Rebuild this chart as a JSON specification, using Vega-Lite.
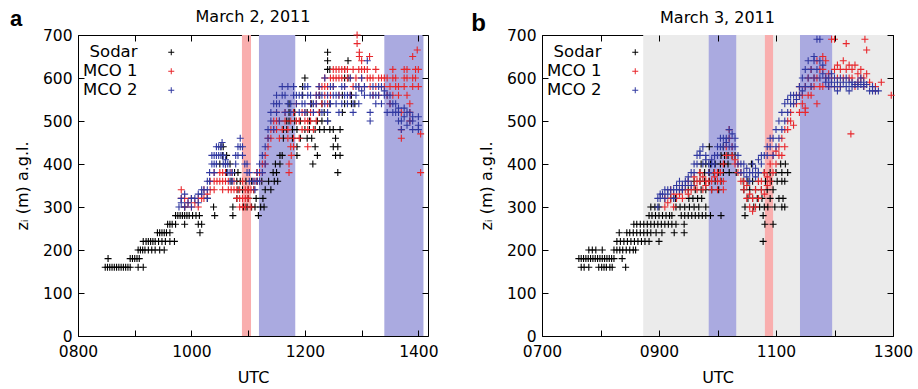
{
"$schema":"https://vega.github.io/schema/vega-lite/v6.json",
"background":"white",
"padding":{"left":9,"right":0,"top":7,"bottom":0},
"spacing":31,
"config":{"font":"DejaVu Sans","view":{"stroke":"#000","strokeWidth":1},
"axis":{"grid":false,"domain":false,"tickColor":"#000","tickWidth":1,"labelFlush":false,"minExtent":0,"labelFontSize":15.5,"labelColor":"#000","titleFontSize":16,"titleFontWeight":"normal","titleColor":"#000","labelFont":"DejaVu Sans","titleFont":"DejaVu Sans"},
"title":{"fontSize":16,"fontWeight":"normal","font":"DejaVu Sans","offset":0,"baseline":"alphabetic","color":"#000"}},
"datasets":{
"bandsA":[{"from":10.89,"to":11.05,"kind":"MCO 1"},{"from":11.19,"to":11.83,"kind":"MCO 2"},{"from":13.40,"to":14.09,"kind":"MCO 2"}],
"bandsB":[{"from":8.73,"to":13,"kind":"shade"},{"from":9.85,"to":10.32,"kind":"MCO 2"},{"from":10.81,"to":10.95,"kind":"MCO 1"},{"from":11.41,"to":11.96,"kind":"MCO 2"}],
"a":[
{"s":"Sodar","t":8.48,"z":160},{"s":"Sodar","t":8.52,"z":160},{"s":"Sodar","t":8.56,"z":160},{"s":"Sodar","t":8.60,"z":160},{"s":"Sodar","t":8.64,"z":160},{"s":"Sodar","t":8.68,"z":160},{"s":"Sodar","t":8.72,"z":160},{"s":"Sodar","t":8.76,"z":160},{"s":"Sodar","t":8.80,"z":160},{"s":"Sodar","t":8.84,"z":160},{"s":"Sodar","t":8.88,"z":160},{"s":"Sodar","t":8.92,"z":160},{"s":"Sodar","t":9.06,"z":160},{"s":"Sodar","t":9.15,"z":160},
{"s":"Sodar","t":8.53,"z":180},{"s":"Sodar","t":8.92,"z":180},{"s":"Sodar","t":8.96,"z":180},{"s":"Sodar","t":9.00,"z":180},{"s":"Sodar","t":9.04,"z":180},{"s":"Sodar","t":9.08,"z":180},
{"s":"Sodar","t":9.06,"z":200},{"s":"Sodar","t":9.10,"z":200},{"s":"Sodar","t":9.14,"z":200},{"s":"Sodar","t":9.18,"z":200},{"s":"Sodar","t":9.24,"z":200},{"s":"Sodar","t":9.30,"z":200},{"s":"Sodar","t":9.36,"z":200},{"s":"Sodar","t":9.44,"z":200},{"s":"Sodar","t":9.52,"z":200},
{"s":"Sodar","t":9.15,"z":220},{"s":"Sodar","t":9.20,"z":220},{"s":"Sodar","t":9.24,"z":220},{"s":"Sodar","t":9.28,"z":220},{"s":"Sodar","t":9.32,"z":220},{"s":"Sodar","t":9.36,"z":220},{"s":"Sodar","t":9.42,"z":220},{"s":"Sodar","t":9.48,"z":220},{"s":"Sodar","t":9.54,"z":220},{"s":"Sodar","t":9.62,"z":220},{"s":"Sodar","t":9.70,"z":220},
{"s":"Sodar","t":9.40,"z":240},{"s":"Sodar","t":9.44,"z":240},{"s":"Sodar","t":9.48,"z":240},{"s":"Sodar","t":9.52,"z":240},{"s":"Sodar","t":9.56,"z":240},{"s":"Sodar","t":9.62,"z":240},{"s":"Sodar","t":10.15,"z":240},
{"s":"Sodar","t":9.58,"z":260},{"s":"Sodar","t":9.62,"z":260},{"s":"Sodar","t":9.66,"z":260},{"s":"Sodar","t":9.72,"z":260},{"s":"Sodar","t":9.88,"z":260},{"s":"Sodar","t":10.12,"z":260},{"s":"Sodar","t":10.18,"z":260},
{"s":"Sodar","t":9.72,"z":280},{"s":"Sodar","t":9.76,"z":280},{"s":"Sodar","t":9.80,"z":280},{"s":"Sodar","t":9.84,"z":280},{"s":"Sodar","t":9.88,"z":280},{"s":"Sodar","t":9.92,"z":280},{"s":"Sodar","t":9.96,"z":280},{"s":"Sodar","t":10.02,"z":280},{"s":"Sodar","t":10.08,"z":280},{"s":"Sodar","t":10.14,"z":280},{"s":"Sodar","t":10.41,"z":280},{"s":"Sodar","t":10.73,"z":280},{"s":"Sodar","t":11.18,"z":280},
{"s":"Sodar","t":9.88,"z":300},{"s":"Sodar","t":10.39,"z":300},{"s":"Sodar","t":10.73,"z":300},{"s":"Sodar","t":10.92,"z":300},{"s":"Sodar","t":10.98,"z":300},{"s":"Sodar","t":11.06,"z":300},{"s":"Sodar","t":11.12,"z":300},{"s":"Sodar","t":11.22,"z":300},{"s":"Sodar","t":11.28,"z":300},
{"s":"Sodar","t":10.00,"z":320},{"s":"Sodar","t":10.28,"z":320},{"s":"Sodar","t":10.80,"z":320},{"s":"Sodar","t":11.00,"z":320},{"s":"Sodar","t":11.14,"z":320},{"s":"Sodar","t":11.26,"z":320},
{"s":"Sodar","t":10.82,"z":340},{"s":"Sodar","t":10.90,"z":340},{"s":"Sodar","t":11.00,"z":340},{"s":"Sodar","t":11.10,"z":340},{"s":"Sodar","t":11.30,"z":340},{"s":"Sodar","t":11.40,"z":340},
{"s":"Sodar","t":10.70,"z":360},{"s":"Sodar","t":10.80,"z":360},{"s":"Sodar","t":10.86,"z":360},{"s":"Sodar","t":10.96,"z":360},{"s":"Sodar","t":11.06,"z":360},{"s":"Sodar","t":11.16,"z":360},{"s":"Sodar","t":11.24,"z":360},{"s":"Sodar","t":11.36,"z":360},{"s":"Sodar","t":11.46,"z":360},{"s":"Sodar","t":11.52,"z":360},
{"s":"Sodar","t":10.62,"z":380},{"s":"Sodar","t":10.76,"z":380},{"s":"Sodar","t":10.82,"z":380},{"s":"Sodar","t":11.44,"z":380},{"s":"Sodar","t":11.50,"z":380},
{"s":"Sodar","t":10.50,"z":400},{"s":"Sodar","t":10.60,"z":400},{"s":"Sodar","t":10.68,"z":400},{"s":"Sodar","t":11.48,"z":400},{"s":"Sodar","t":11.56,"z":400},
{"s":"Sodar","t":10.55,"z":420},{"s":"Sodar","t":10.62,"z":420},{"s":"Sodar","t":11.56,"z":420},{"s":"Sodar","t":11.60,"z":420},
{"s":"Sodar","t":10.52,"z":440},{"s":"Sodar","t":10.56,"z":440},
{"s":"Sodar","t":11.62,"z":460},{"s":"Sodar","t":11.62,"z":480},{"s":"Sodar","t":11.68,"z":480},{"s":"Sodar","t":11.68,"z":500},{"s":"Sodar","t":11.72,"z":500},{"s":"Sodar","t":11.72,"z":520},{"s":"Sodar","t":11.72,"z":540},{"s":"Sodar","t":11.78,"z":460},{"s":"Sodar","t":11.78,"z":480},{"s":"Sodar","t":11.82,"z":500},{"s":"Sodar","t":11.82,"z":520},{"s":"Sodar","t":11.86,"z":420},{"s":"Sodar","t":11.86,"z":440},{"s":"Sodar","t":11.86,"z":480},{"s":"Sodar","t":11.92,"z":460},{"s":"Sodar","t":11.92,"z":500},{"s":"Sodar","t":11.96,"z":560},{"s":"Sodar","t":11.96,"z":580},{"s":"Sodar","t":12.00,"z":480},{"s":"Sodar","t":12.00,"z":600},{"s":"Sodar","t":12.04,"z":460},{"s":"Sodar","t":12.04,"z":520},{"s":"Sodar","t":12.08,"z":480},{"s":"Sodar","t":12.08,"z":500},{"s":"Sodar","t":12.12,"z":540},{"s":"Sodar","t":12.12,"z":460},{"s":"Sodar","t":12.14,"z":400},{"s":"Sodar","t":12.18,"z":440},{"s":"Sodar","t":12.18,"z":480},{"s":"Sodar","t":12.22,"z":420},{"s":"Sodar","t":12.22,"z":500},{"s":"Sodar","t":12.26,"z":480},{"s":"Sodar","t":12.26,"z":520},{"s":"Sodar","t":12.26,"z":560},{"s":"Sodar","t":12.30,"z":500},{"s":"Sodar","t":12.30,"z":540},{"s":"Sodar","t":12.34,"z":480},{"s":"Sodar","t":12.34,"z":520},{"s":"Sodar","t":12.40,"z":500},{"s":"Sodar","t":12.40,"z":620},{"s":"Sodar","t":12.40,"z":640},{"s":"Sodar","t":12.40,"z":660},{"s":"Sodar","t":12.44,"z":480},{"s":"Sodar","t":12.44,"z":540},{"s":"Sodar","t":12.44,"z":620},{"s":"Sodar","t":12.50,"z":440},{"s":"Sodar","t":12.50,"z":480},{"s":"Sodar","t":12.54,"z":420},{"s":"Sodar","t":12.54,"z":460},{"s":"Sodar","t":12.58,"z":380},{"s":"Sodar","t":12.58,"z":440},{"s":"Sodar","t":12.62,"z":420},{"s":"Sodar","t":12.62,"z":480},{"s":"Sodar","t":12.66,"z":520},{"s":"Sodar","t":12.66,"z":560},{"s":"Sodar","t":12.70,"z":540},{"s":"Sodar","t":12.70,"z":600},{"s":"Sodar","t":12.70,"z":620},{"s":"Sodar","t":12.76,"z":600},{"s":"Sodar","t":12.76,"z":640},{"s":"Sodar","t":12.82,"z":540},{"s":"Sodar","t":12.82,"z":560},{"s":"Sodar","t":12.88,"z":540},
{"s":"MCO 1","t":9.82,"z":320},{"s":"MCO 1","t":9.82,"z":340},{"s":"MCO 1","t":9.88,"z":300},{"s":"MCO 1","t":9.88,"z":320},{"s":"MCO 1","t":9.94,"z":310},{"s":"MCO 1","t":10.00,"z":300},{"s":"MCO 1","t":10.00,"z":320},{"s":"MCO 1","t":10.06,"z":310},{"s":"MCO 1","t":10.12,"z":300},{"s":"MCO 1","t":10.12,"z":320},{"s":"MCO 1","t":10.18,"z":320},{"s":"MCO 1","t":10.22,"z":320},{"s":"MCO 1","t":10.22,"z":340},{"s":"MCO 1","t":10.28,"z":330},{"s":"MCO 1","t":10.33,"z":340},{"s":"MCO 1","t":10.33,"z":360},{"s":"MCO 1","t":10.40,"z":340},{"s":"MCO 1","t":10.40,"z":360},{"s":"MCO 1","t":10.40,"z":380},{"s":"MCO 1","t":10.45,"z":360},{"s":"MCO 1","t":10.50,"z":360},{"s":"MCO 1","t":10.50,"z":380},{"s":"MCO 1","t":10.55,"z":340},{"s":"MCO 1","t":10.55,"z":360},{"s":"MCO 1","t":10.55,"z":380},{"s":"MCO 1","t":10.60,"z":360},{"s":"MCO 1","t":10.60,"z":380},{"s":"MCO 1","t":10.65,"z":340},{"s":"MCO 1","t":10.65,"z":360},{"s":"MCO 1","t":10.70,"z":340},{"s":"MCO 1","t":10.70,"z":380},{"s":"MCO 1","t":10.75,"z":340},{"s":"MCO 1","t":10.75,"z":360},{"s":"MCO 1","t":10.80,"z":320},{"s":"MCO 1","t":10.80,"z":340},{"s":"MCO 1","t":10.85,"z":300},{"s":"MCO 1","t":10.85,"z":320},{"s":"MCO 1","t":10.85,"z":340},{"s":"MCO 1","t":10.90,"z":300},{"s":"MCO 1","t":10.90,"z":320},{"s":"MCO 1","t":10.90,"z":360},{"s":"MCO 1","t":10.95,"z":300},{"s":"MCO 1","t":10.95,"z":320},{"s":"MCO 1","t":10.95,"z":340},{"s":"MCO 1","t":11.00,"z":320},{"s":"MCO 1","t":11.00,"z":340},{"s":"MCO 1","t":11.05,"z":300},{"s":"MCO 1","t":11.05,"z":340},{"s":"MCO 1","t":11.10,"z":340},{"s":"MCO 1","t":11.10,"z":360},{"s":"MCO 1","t":11.15,"z":360},{"s":"MCO 1","t":11.15,"z":380},{"s":"MCO 1","t":11.20,"z":360},{"s":"MCO 1","t":11.20,"z":380},{"s":"MCO 1","t":11.25,"z":380},{"s":"MCO 1","t":11.25,"z":400},{"s":"MCO 1","t":11.30,"z":400},{"s":"MCO 1","t":11.30,"z":420},{"s":"MCO 1","t":11.35,"z":440},{"s":"MCO 1","t":11.35,"z":460},{"s":"MCO 1","t":11.40,"z":460},{"s":"MCO 1","t":11.40,"z":480},{"s":"MCO 1","t":11.45,"z":480},{"s":"MCO 1","t":11.45,"z":500},{"s":"MCO 1","t":11.50,"z":480},{"s":"MCO 1","t":11.50,"z":500},{"s":"MCO 1","t":11.50,"z":520},{"s":"MCO 1","t":11.55,"z":460},{"s":"MCO 1","t":11.55,"z":500},{"s":"MCO 1","t":11.60,"z":480},{"s":"MCO 1","t":11.65,"z":500},{"s":"MCO 1","t":11.65,"z":520},{"s":"MCO 1","t":11.70,"z":460},{"s":"MCO 1","t":11.70,"z":480},{"s":"MCO 1","t":11.72,"z":380},{"s":"MCO 1","t":11.72,"z":400},{"s":"MCO 1","t":11.76,"z":420},{"s":"MCO 1","t":11.75,"z":440},{"s":"MCO 1","t":11.75,"z":500},{"s":"MCO 1","t":11.80,"z":440},{"s":"MCO 1","t":11.80,"z":460},{"s":"MCO 1","t":11.80,"z":520},{"s":"MCO 1","t":11.85,"z":500},{"s":"MCO 1","t":11.85,"z":540},{"s":"MCO 1","t":11.90,"z":460},{"s":"MCO 1","t":11.90,"z":500},{"s":"MCO 1","t":11.95,"z":480},{"s":"MCO 1","t":11.95,"z":520},{"s":"MCO 1","t":12.00,"z":500},{"s":"MCO 1","t":12.00,"z":520},{"s":"MCO 1","t":12.05,"z":440},{"s":"MCO 1","t":12.05,"z":480},{"s":"MCO 1","t":12.05,"z":500},{"s":"MCO 1","t":12.10,"z":500},{"s":"MCO 1","t":12.10,"z":520},{"s":"MCO 1","t":12.10,"z":540},{"s":"MCO 1","t":12.15,"z":480},{"s":"MCO 1","t":12.15,"z":520},{"s":"MCO 1","t":12.20,"z":500},{"s":"MCO 1","t":12.20,"z":540},{"s":"MCO 1","t":12.20,"z":560},{"s":"MCO 1","t":12.25,"z":520},{"s":"MCO 1","t":12.25,"z":560},{"s":"MCO 1","t":12.25,"z":580},{"s":"MCO 1","t":12.30,"z":540},{"s":"MCO 1","t":12.30,"z":580},{"s":"MCO 1","t":12.35,"z":560},{"s":"MCO 1","t":12.35,"z":580},{"s":"MCO 1","t":12.35,"z":600},{"s":"MCO 1","t":12.40,"z":540},{"s":"MCO 1","t":12.40,"z":580},{"s":"MCO 1","t":12.45,"z":560},{"s":"MCO 1","t":12.45,"z":600},{"s":"MCO 1","t":12.50,"z":580},{"s":"MCO 1","t":12.50,"z":600},{"s":"MCO 1","t":12.50,"z":620},{"s":"MCO 1","t":12.55,"z":600},{"s":"MCO 1","t":12.55,"z":620},{"s":"MCO 1","t":12.60,"z":560},{"s":"MCO 1","t":12.60,"z":600},{"s":"MCO 1","t":12.60,"z":620},{"s":"MCO 1","t":12.65,"z":600},{"s":"MCO 1","t":12.65,"z":620},{"s":"MCO 1","t":12.70,"z":580},{"s":"MCO 1","t":12.70,"z":620},{"s":"MCO 1","t":12.75,"z":600},{"s":"MCO 1","t":12.75,"z":620},{"s":"MCO 1","t":12.80,"z":560},{"s":"MCO 1","t":12.80,"z":600},{"s":"MCO 1","t":12.85,"z":620},{"s":"MCO 1","t":12.85,"z":580},{"s":"MCO 1","t":12.92,"z":680},{"s":"MCO 1","t":12.92,"z":700},{"s":"MCO 1","t":12.96,"z":650},{"s":"MCO 1","t":12.96,"z":660},{"s":"MCO 1","t":12.90,"z":600},{"s":"MCO 1","t":12.95,"z":580},{"s":"MCO 1","t":12.95,"z":620},{"s":"MCO 1","t":13.00,"z":600},{"s":"MCO 1","t":13.00,"z":620},{"s":"MCO 1","t":13.00,"z":640},{"s":"MCO 1","t":13.05,"z":580},{"s":"MCO 1","t":13.05,"z":620},{"s":"MCO 1","t":13.10,"z":600},{"s":"MCO 1","t":13.10,"z":620},{"s":"MCO 1","t":13.14,"z":650},{"s":"MCO 1","t":13.15,"z":580},{"s":"MCO 1","t":13.15,"z":600},{"s":"MCO 1","t":13.20,"z":560},{"s":"MCO 1","t":13.20,"z":600},{"s":"MCO 1","t":13.25,"z":580},{"s":"MCO 1","t":13.25,"z":620},{"s":"MCO 1","t":13.30,"z":560},{"s":"MCO 1","t":13.30,"z":600},{"s":"MCO 1","t":13.35,"z":580},{"s":"MCO 1","t":13.35,"z":600},{"s":"MCO 1","t":13.40,"z":580},{"s":"MCO 1","t":13.40,"z":600},{"s":"MCO 1","t":13.45,"z":560},{"s":"MCO 1","t":13.45,"z":600},{"s":"MCO 1","t":13.50,"z":540},{"s":"MCO 1","t":13.50,"z":580},{"s":"MCO 1","t":13.55,"z":560},{"s":"MCO 1","t":13.55,"z":600},{"s":"MCO 1","t":13.55,"z":620},{"s":"MCO 1","t":13.60,"z":580},{"s":"MCO 1","t":13.60,"z":600},{"s":"MCO 1","t":13.65,"z":560},{"s":"MCO 1","t":13.65,"z":580},{"s":"MCO 1","t":13.70,"z":460},{"s":"MCO 1","t":13.70,"z":480},{"s":"MCO 1","t":13.70,"z":520},{"s":"MCO 1","t":13.75,"z":580},{"s":"MCO 1","t":13.75,"z":600},{"s":"MCO 1","t":13.75,"z":620},{"s":"MCO 1","t":13.80,"z":560},{"s":"MCO 1","t":13.80,"z":600},{"s":"MCO 1","t":13.80,"z":620},{"s":"MCO 1","t":13.85,"z":500},{"s":"MCO 1","t":13.85,"z":520},{"s":"MCO 1","t":13.85,"z":540},{"s":"MCO 1","t":13.90,"z":580},{"s":"MCO 1","t":13.90,"z":600},{"s":"MCO 1","t":13.90,"z":650},{"s":"MCO 1","t":13.95,"z":600},{"s":"MCO 1","t":13.95,"z":620},{"s":"MCO 1","t":14.00,"z":580},{"s":"MCO 1","t":14.00,"z":620},{"s":"MCO 1","t":13.98,"z":665},{"s":"MCO 1","t":14.04,"z":380},{"s":"MCO 1","t":14.04,"z":470},
{"s":"MCO 2","t":9.78,"z":300},{"s":"MCO 2","t":9.82,"z":310},{"s":"MCO 2","t":9.82,"z":320},{"s":"MCO 2","t":9.88,"z":300},{"s":"MCO 2","t":9.88,"z":330},{"s":"MCO 2","t":9.94,"z":310},{"s":"MCO 2","t":10.00,"z":300},{"s":"MCO 2","t":10.00,"z":320},{"s":"MCO 2","t":10.06,"z":320},{"s":"MCO 2","t":10.12,"z":310},{"s":"MCO 2","t":10.12,"z":330},{"s":"MCO 2","t":10.18,"z":330},{"s":"MCO 2","t":10.18,"z":340},{"s":"MCO 2","t":10.22,"z":340},{"s":"MCO 2","t":10.28,"z":320},{"s":"MCO 2","t":10.28,"z":340},{"s":"MCO 2","t":10.28,"z":360},{"s":"MCO 2","t":10.32,"z":360},{"s":"MCO 2","t":10.32,"z":380},{"s":"MCO 2","t":10.36,"z":400},{"s":"MCO 2","t":10.36,"z":420},{"s":"MCO 2","t":10.40,"z":380},{"s":"MCO 2","t":10.40,"z":400},{"s":"MCO 2","t":10.40,"z":420},{"s":"MCO 2","t":10.44,"z":400},{"s":"MCO 2","t":10.44,"z":420},{"s":"MCO 2","t":10.44,"z":440},{"s":"MCO 2","t":10.48,"z":420},{"s":"MCO 2","t":10.48,"z":440},{"s":"MCO 2","t":10.52,"z":420},{"s":"MCO 2","t":10.52,"z":440},{"s":"MCO 2","t":10.54,"z":450},{"s":"MCO 2","t":10.56,"z":400},{"s":"MCO 2","t":10.56,"z":420},{"s":"MCO 2","t":10.60,"z":400},{"s":"MCO 2","t":10.60,"z":410},{"s":"MCO 2","t":10.64,"z":380},{"s":"MCO 2","t":10.64,"z":400},{"s":"MCO 2","t":10.68,"z":360},{"s":"MCO 2","t":10.68,"z":380},{"s":"MCO 2","t":10.72,"z":360},{"s":"MCO 2","t":10.72,"z":380},{"s":"MCO 2","t":10.78,"z":400},{"s":"MCO 2","t":10.78,"z":420},{"s":"MCO 2","t":10.82,"z":420},{"s":"MCO 2","t":10.82,"z":440},{"s":"MCO 2","t":10.86,"z":440},{"s":"MCO 2","t":10.86,"z":460},{"s":"MCO 2","t":10.90,"z":420},{"s":"MCO 2","t":10.90,"z":440},{"s":"MCO 2","t":10.94,"z":400},{"s":"MCO 2","t":10.98,"z":380},{"s":"MCO 2","t":10.98,"z":400},{"s":"MCO 2","t":11.02,"z":360},{"s":"MCO 2","t":11.02,"z":380},{"s":"MCO 2","t":11.08,"z":360},{"s":"MCO 2","t":11.12,"z":340},{"s":"MCO 2","t":11.12,"z":360},{"s":"MCO 2","t":11.16,"z":360},{"s":"MCO 2","t":11.16,"z":380},{"s":"MCO 2","t":11.20,"z":360},{"s":"MCO 2","t":11.20,"z":400},{"s":"MCO 2","t":11.25,"z":380},{"s":"MCO 2","t":11.25,"z":420},{"s":"MCO 2","t":11.30,"z":400},{"s":"MCO 2","t":11.30,"z":440},{"s":"MCO 2","t":11.35,"z":460},{"s":"MCO 2","t":11.35,"z":480},{"s":"MCO 2","t":11.40,"z":500},{"s":"MCO 2","t":11.40,"z":520},{"s":"MCO 2","t":11.45,"z":480},{"s":"MCO 2","t":11.45,"z":540},{"s":"MCO 2","t":11.50,"z":520},{"s":"MCO 2","t":11.50,"z":540},{"s":"MCO 2","t":11.50,"z":560},{"s":"MCO 2","t":11.55,"z":500},{"s":"MCO 2","t":11.55,"z":540},{"s":"MCO 2","t":11.60,"z":560},{"s":"MCO 2","t":11.60,"z":580},{"s":"MCO 2","t":11.65,"z":520},{"s":"MCO 2","t":11.65,"z":560},{"s":"MCO 2","t":11.70,"z":540},{"s":"MCO 2","t":11.70,"z":580},{"s":"MCO 2","t":11.75,"z":520},{"s":"MCO 2","t":11.75,"z":540},{"s":"MCO 2","t":11.80,"z":560},{"s":"MCO 2","t":11.80,"z":580},{"s":"MCO 2","t":11.85,"z":540},{"s":"MCO 2","t":11.85,"z":560},{"s":"MCO 2","t":11.90,"z":520},{"s":"MCO 2","t":11.90,"z":560},{"s":"MCO 2","t":11.95,"z":540},{"s":"MCO 2","t":11.95,"z":560},{"s":"MCO 2","t":12.00,"z":520},{"s":"MCO 2","t":12.00,"z":540},{"s":"MCO 2","t":12.00,"z":580},{"s":"MCO 2","t":12.05,"z":560},{"s":"MCO 2","t":12.05,"z":580},{"s":"MCO 2","t":12.10,"z":540},{"s":"MCO 2","t":12.10,"z":560},{"s":"MCO 2","t":12.15,"z":520},{"s":"MCO 2","t":12.15,"z":540},{"s":"MCO 2","t":12.20,"z":540},{"s":"MCO 2","t":12.20,"z":560},{"s":"MCO 2","t":12.25,"z":560},{"s":"MCO 2","t":12.25,"z":580},{"s":"MCO 2","t":12.30,"z":520},{"s":"MCO 2","t":12.30,"z":560},{"s":"MCO 2","t":12.35,"z":540},{"s":"MCO 2","t":12.35,"z":600},{"s":"MCO 2","t":12.40,"z":500},{"s":"MCO 2","t":12.40,"z":520},{"s":"MCO 2","t":12.40,"z":560},{"s":"MCO 2","t":12.45,"z":540},{"s":"MCO 2","t":12.45,"z":580},{"s":"MCO 2","t":12.50,"z":560},{"s":"MCO 2","t":12.50,"z":580},{"s":"MCO 2","t":12.55,"z":540},{"s":"MCO 2","t":12.55,"z":560},{"s":"MCO 2","t":12.60,"z":520},{"s":"MCO 2","t":12.60,"z":560},{"s":"MCO 2","t":12.65,"z":540},{"s":"MCO 2","t":12.65,"z":580},{"s":"MCO 2","t":12.70,"z":560},{"s":"MCO 2","t":12.70,"z":580},{"s":"MCO 2","t":12.75,"z":540},{"s":"MCO 2","t":12.75,"z":560},{"s":"MCO 2","t":12.80,"z":560},{"s":"MCO 2","t":12.80,"z":600},{"s":"MCO 2","t":12.85,"z":520},{"s":"MCO 2","t":12.85,"z":540},{"s":"MCO 2","t":12.90,"z":560},{"s":"MCO 2","t":12.90,"z":580},{"s":"MCO 2","t":12.95,"z":540},{"s":"MCO 2","t":12.95,"z":580},{"s":"MCO 2","t":13.00,"z":570},{"s":"MCO 2","t":13.00,"z":600},{"s":"MCO 2","t":13.05,"z":560},{"s":"MCO 2","t":13.05,"z":580},{"s":"MCO 2","t":13.10,"z":640},{"s":"MCO 2","t":13.15,"z":500},{"s":"MCO 2","t":13.15,"z":520},{"s":"MCO 2","t":13.15,"z":560},{"s":"MCO 2","t":13.20,"z":560},{"s":"MCO 2","t":13.20,"z":580},{"s":"MCO 2","t":13.25,"z":540},{"s":"MCO 2","t":13.25,"z":560},{"s":"MCO 2","t":13.30,"z":560},{"s":"MCO 2","t":13.30,"z":580},{"s":"MCO 2","t":13.35,"z":540},{"s":"MCO 2","t":13.35,"z":580},{"s":"MCO 2","t":13.40,"z":560},{"s":"MCO 2","t":13.40,"z":570},{"s":"MCO 2","t":13.45,"z":520},{"s":"MCO 2","t":13.45,"z":560},{"s":"MCO 2","t":13.50,"z":540},{"s":"MCO 2","t":13.50,"z":560},{"s":"MCO 2","t":13.55,"z":520},{"s":"MCO 2","t":13.55,"z":540},{"s":"MCO 2","t":13.60,"z":520},{"s":"MCO 2","t":13.60,"z":540},{"s":"MCO 2","t":13.65,"z":500},{"s":"MCO 2","t":13.65,"z":520},{"s":"MCO 2","t":13.65,"z":530},{"s":"MCO 2","t":13.70,"z":480},{"s":"MCO 2","t":13.70,"z":500},{"s":"MCO 2","t":13.75,"z":510},{"s":"MCO 2","t":13.75,"z":530},{"s":"MCO 2","t":13.80,"z":490},{"s":"MCO 2","t":13.80,"z":520},{"s":"MCO 2","t":13.85,"z":500},{"s":"MCO 2","t":13.85,"z":520},{"s":"MCO 2","t":13.90,"z":480},{"s":"MCO 2","t":13.90,"z":500},{"s":"MCO 2","t":13.90,"z":510},{"s":"MCO 2","t":14.00,"z":480},{"s":"MCO 2","t":14.00,"z":490},{"s":"MCO 2","t":14.00,"z":510}
],
"b":[
{"s":"Sodar","t":7.67,"z":160},{"s":"Sodar","t":7.72,"z":160},{"s":"Sodar","t":7.80,"z":160},{"s":"Sodar","t":7.97,"z":160},{"s":"Sodar","t":8.02,"z":160},{"s":"Sodar","t":8.06,"z":160},{"s":"Sodar","t":8.10,"z":160},{"s":"Sodar","t":8.16,"z":160},{"s":"Sodar","t":8.20,"z":160},{"s":"Sodar","t":8.43,"z":160},
{"s":"Sodar","t":7.63,"z":180},{"s":"Sodar","t":7.67,"z":180},{"s":"Sodar","t":7.71,"z":180},{"s":"Sodar","t":7.75,"z":180},{"s":"Sodar","t":7.79,"z":180},{"s":"Sodar","t":7.83,"z":180},{"s":"Sodar","t":7.87,"z":180},{"s":"Sodar","t":7.91,"z":180},{"s":"Sodar","t":7.95,"z":180},{"s":"Sodar","t":7.99,"z":180},{"s":"Sodar","t":8.03,"z":180},{"s":"Sodar","t":8.07,"z":180},{"s":"Sodar","t":8.11,"z":180},{"s":"Sodar","t":8.15,"z":180},{"s":"Sodar","t":8.19,"z":180},{"s":"Sodar","t":8.23,"z":180},{"s":"Sodar","t":8.37,"z":180},
{"s":"Sodar","t":7.80,"z":200},{"s":"Sodar","t":7.86,"z":200},{"s":"Sodar","t":7.92,"z":200},{"s":"Sodar","t":8.03,"z":200},{"s":"Sodar","t":8.23,"z":200},{"s":"Sodar","t":8.28,"z":200},{"s":"Sodar","t":8.33,"z":200},{"s":"Sodar","t":8.38,"z":200},{"s":"Sodar","t":8.44,"z":200},{"s":"Sodar","t":8.50,"z":200},{"s":"Sodar","t":8.56,"z":200},{"s":"Sodar","t":8.60,"z":200},
{"s":"Sodar","t":8.28,"z":220},{"s":"Sodar","t":8.34,"z":220},{"s":"Sodar","t":8.40,"z":220},{"s":"Sodar","t":8.46,"z":220},{"s":"Sodar","t":8.52,"z":220},{"s":"Sodar","t":8.58,"z":220},{"s":"Sodar","t":8.64,"z":220},{"s":"Sodar","t":8.70,"z":220},{"s":"Sodar","t":8.76,"z":220},{"s":"Sodar","t":8.83,"z":220},{"s":"Sodar","t":9.00,"z":220},{"s":"Sodar","t":10.78,"z":220},
{"s":"Sodar","t":8.32,"z":240},{"s":"Sodar","t":8.45,"z":240},{"s":"Sodar","t":8.50,"z":240},{"s":"Sodar","t":8.56,"z":240},{"s":"Sodar","t":8.62,"z":240},{"s":"Sodar","t":8.68,"z":240},{"s":"Sodar","t":8.74,"z":240},{"s":"Sodar","t":8.80,"z":240},{"s":"Sodar","t":8.86,"z":240},{"s":"Sodar","t":8.95,"z":240},{"s":"Sodar","t":9.05,"z":240},{"s":"Sodar","t":9.26,"z":240},{"s":"Sodar","t":9.43,"z":240},
{"s":"Sodar","t":8.57,"z":260},{"s":"Sodar","t":8.62,"z":260},{"s":"Sodar","t":8.68,"z":260},{"s":"Sodar","t":8.74,"z":260},{"s":"Sodar","t":8.80,"z":260},{"s":"Sodar","t":8.86,"z":260},{"s":"Sodar","t":8.92,"z":260},{"s":"Sodar","t":8.98,"z":260},{"s":"Sodar","t":9.04,"z":260},{"s":"Sodar","t":9.10,"z":260},{"s":"Sodar","t":9.16,"z":260},{"s":"Sodar","t":9.22,"z":260},{"s":"Sodar","t":9.29,"z":260},{"s":"Sodar","t":9.43,"z":260},{"s":"Sodar","t":10.81,"z":260},{"s":"Sodar","t":10.95,"z":260},
{"s":"Sodar","t":8.83,"z":280},{"s":"Sodar","t":8.88,"z":280},{"s":"Sodar","t":8.94,"z":280},{"s":"Sodar","t":9.00,"z":280},{"s":"Sodar","t":9.06,"z":280},{"s":"Sodar","t":9.12,"z":280},{"s":"Sodar","t":9.18,"z":280},{"s":"Sodar","t":9.22,"z":280},{"s":"Sodar","t":9.38,"z":280},{"s":"Sodar","t":9.44,"z":280},{"s":"Sodar","t":9.50,"z":280},{"s":"Sodar","t":9.56,"z":280},{"s":"Sodar","t":9.62,"z":280},{"s":"Sodar","t":9.68,"z":280},{"s":"Sodar","t":9.74,"z":280},{"s":"Sodar","t":9.80,"z":280},{"s":"Sodar","t":9.88,"z":280},{"s":"Sodar","t":10.06,"z":280},{"s":"Sodar","t":10.47,"z":280},{"s":"Sodar","t":10.78,"z":280},
{"s":"Sodar","t":8.86,"z":300},{"s":"Sodar","t":8.93,"z":300},{"s":"Sodar","t":9.00,"z":300},{"s":"Sodar","t":9.29,"z":300},{"s":"Sodar","t":9.36,"z":300},{"s":"Sodar","t":9.44,"z":300},{"s":"Sodar","t":9.52,"z":300},{"s":"Sodar","t":9.60,"z":300},{"s":"Sodar","t":9.68,"z":300},{"s":"Sodar","t":9.80,"z":300},{"s":"Sodar","t":10.47,"z":300},{"s":"Sodar","t":10.62,"z":300},{"s":"Sodar","t":10.72,"z":300},{"s":"Sodar","t":10.80,"z":300},{"s":"Sodar","t":10.86,"z":300},{"s":"Sodar","t":10.98,"z":300},{"s":"Sodar","t":11.10,"z":300},{"s":"Sodar","t":11.15,"z":300},
{"s":"Sodar","t":9.20,"z":320},{"s":"Sodar","t":9.28,"z":320},{"s":"Sodar","t":9.51,"z":320},{"s":"Sodar","t":9.58,"z":320},{"s":"Sodar","t":9.66,"z":320},{"s":"Sodar","t":9.73,"z":320},{"s":"Sodar","t":10.52,"z":320},{"s":"Sodar","t":10.60,"z":320},{"s":"Sodar","t":10.68,"z":320},{"s":"Sodar","t":10.76,"z":320},{"s":"Sodar","t":10.90,"z":320},{"s":"Sodar","t":11.05,"z":320},{"s":"Sodar","t":11.12,"z":320},
{"s":"Sodar","t":9.40,"z":340},{"s":"Sodar","t":9.50,"z":340},{"s":"Sodar","t":9.62,"z":340},{"s":"Sodar","t":9.72,"z":340},{"s":"Sodar","t":9.80,"z":340},{"s":"Sodar","t":9.90,"z":340},{"s":"Sodar","t":10.02,"z":340},{"s":"Sodar","t":10.45,"z":340},{"s":"Sodar","t":10.55,"z":340},{"s":"Sodar","t":10.65,"z":340},{"s":"Sodar","t":10.75,"z":340},{"s":"Sodar","t":10.85,"z":340},{"s":"Sodar","t":10.95,"z":340},
{"s":"Sodar","t":9.60,"z":360},{"s":"Sodar","t":9.70,"z":360},{"s":"Sodar","t":9.78,"z":360},{"s":"Sodar","t":9.86,"z":360},{"s":"Sodar","t":9.96,"z":360},{"s":"Sodar","t":10.06,"z":360},{"s":"Sodar","t":10.44,"z":360},{"s":"Sodar","t":10.52,"z":360},{"s":"Sodar","t":10.60,"z":360},{"s":"Sodar","t":10.70,"z":360},{"s":"Sodar","t":10.82,"z":360},{"s":"Sodar","t":10.92,"z":360},{"s":"Sodar","t":11.02,"z":360},{"s":"Sodar","t":11.10,"z":360},{"s":"Sodar","t":11.15,"z":360},
{"s":"Sodar","t":9.70,"z":380},{"s":"Sodar","t":9.78,"z":380},{"s":"Sodar","t":9.86,"z":380},{"s":"Sodar","t":9.94,"z":380},{"s":"Sodar","t":10.02,"z":380},{"s":"Sodar","t":10.10,"z":380},{"s":"Sodar","t":10.20,"z":380},{"s":"Sodar","t":10.32,"z":380},{"s":"Sodar","t":10.70,"z":380},{"s":"Sodar","t":10.80,"z":380},{"s":"Sodar","t":10.90,"z":380},{"s":"Sodar","t":11.00,"z":380},{"s":"Sodar","t":11.10,"z":380},{"s":"Sodar","t":11.20,"z":380},
{"s":"Sodar","t":9.72,"z":400},{"s":"Sodar","t":9.80,"z":400},{"s":"Sodar","t":9.88,"z":400},{"s":"Sodar","t":9.96,"z":400},{"s":"Sodar","t":10.05,"z":400},{"s":"Sodar","t":10.12,"z":400},{"s":"Sodar","t":10.18,"z":400},{"s":"Sodar","t":10.58,"z":400},{"s":"Sodar","t":11.08,"z":400},{"s":"Sodar","t":11.16,"z":400},
{"s":"Sodar","t":10.06,"z":420},{"s":"Sodar","t":10.12,"z":420},{"s":"Sodar","t":10.18,"z":420},{"s":"Sodar","t":10.25,"z":420},{"s":"Sodar","t":10.30,"z":420},{"s":"Sodar","t":10.10,"z":440},{"s":"Sodar","t":9.86,"z":440},
{"s":"MCO 1","t":9.10,"z":300},{"s":"MCO 1","t":9.10,"z":320},{"s":"MCO 1","t":9.15,"z":310},{"s":"MCO 1","t":9.20,"z":320},{"s":"MCO 1","t":9.20,"z":340},{"s":"MCO 1","t":9.25,"z":300},{"s":"MCO 1","t":9.25,"z":330},{"s":"MCO 1","t":9.30,"z":320},{"s":"MCO 1","t":9.35,"z":330},{"s":"MCO 1","t":9.35,"z":340},{"s":"MCO 1","t":9.40,"z":320},{"s":"MCO 1","t":9.40,"z":350},{"s":"MCO 1","t":9.45,"z":340},{"s":"MCO 1","t":9.50,"z":330},{"s":"MCO 1","t":9.50,"z":360},{"s":"MCO 1","t":9.55,"z":340},{"s":"MCO 1","t":9.60,"z":350},{"s":"MCO 1","t":9.60,"z":370},{"s":"MCO 1","t":9.65,"z":340},{"s":"MCO 1","t":9.65,"z":360},{"s":"MCO 1","t":9.70,"z":360},{"s":"MCO 1","t":9.70,"z":380},{"s":"MCO 1","t":9.75,"z":340},{"s":"MCO 1","t":9.75,"z":370},{"s":"MCO 1","t":9.80,"z":350},{"s":"MCO 1","t":9.80,"z":360},{"s":"MCO 1","t":9.85,"z":360},{"s":"MCO 1","t":9.85,"z":380},{"s":"MCO 1","t":9.90,"z":340},{"s":"MCO 1","t":9.90,"z":360},{"s":"MCO 1","t":9.95,"z":370},{"s":"MCO 1","t":9.95,"z":380},{"s":"MCO 1","t":10.00,"z":340},{"s":"MCO 1","t":10.00,"z":360},{"s":"MCO 1","t":10.00,"z":380},{"s":"MCO 1","t":10.05,"z":360},{"s":"MCO 1","t":10.05,"z":380},{"s":"MCO 1","t":10.10,"z":340},{"s":"MCO 1","t":10.10,"z":360},{"s":"MCO 1","t":10.10,"z":400},{"s":"MCO 1","t":10.15,"z":420},{"s":"MCO 1","t":10.15,"z":440},{"s":"MCO 1","t":10.20,"z":460},{"s":"MCO 1","t":10.20,"z":480},{"s":"MCO 1","t":10.25,"z":440},{"s":"MCO 1","t":10.25,"z":420},{"s":"MCO 1","t":10.30,"z":400},{"s":"MCO 1","t":10.30,"z":410},{"s":"MCO 1","t":10.35,"z":380},{"s":"MCO 1","t":10.35,"z":400},{"s":"MCO 1","t":10.40,"z":360},{"s":"MCO 1","t":10.40,"z":380},{"s":"MCO 1","t":10.45,"z":340},{"s":"MCO 1","t":10.45,"z":360},{"s":"MCO 1","t":10.50,"z":320},{"s":"MCO 1","t":10.50,"z":350},{"s":"MCO 1","t":10.55,"z":300},{"s":"MCO 1","t":10.55,"z":330},{"s":"MCO 1","t":10.60,"z":290},{"s":"MCO 1","t":10.60,"z":320},{"s":"MCO 1","t":10.65,"z":300},{"s":"MCO 1","t":10.65,"z":340},{"s":"MCO 1","t":10.70,"z":320},{"s":"MCO 1","t":10.70,"z":360},{"s":"MCO 1","t":10.75,"z":340},{"s":"MCO 1","t":10.75,"z":360},{"s":"MCO 1","t":10.80,"z":330},{"s":"MCO 1","t":10.80,"z":380},{"s":"MCO 1","t":10.85,"z":350},{"s":"MCO 1","t":10.85,"z":370},{"s":"MCO 1","t":10.90,"z":360},{"s":"MCO 1","t":10.90,"z":400},{"s":"MCO 1","t":10.95,"z":380},{"s":"MCO 1","t":10.95,"z":420},{"s":"MCO 1","t":11.00,"z":400},{"s":"MCO 1","t":11.00,"z":430},{"s":"MCO 1","t":11.05,"z":420},{"s":"MCO 1","t":11.05,"z":440},{"s":"MCO 1","t":11.10,"z":420},{"s":"MCO 1","t":11.10,"z":460},{"s":"MCO 1","t":11.15,"z":440},{"s":"MCO 1","t":11.15,"z":480},{"s":"MCO 1","t":11.20,"z":480},{"s":"MCO 1","t":11.20,"z":500},{"s":"MCO 1","t":11.25,"z":500},{"s":"MCO 1","t":11.25,"z":520},{"s":"MCO 1","t":11.30,"z":490},{"s":"MCO 1","t":11.30,"z":540},{"s":"MCO 1","t":11.35,"z":540},{"s":"MCO 1","t":11.35,"z":560},{"s":"MCO 1","t":11.40,"z":520},{"s":"MCO 1","t":11.40,"z":560},{"s":"MCO 1","t":11.40,"z":580},{"s":"MCO 1","t":11.45,"z":540},{"s":"MCO 1","t":11.45,"z":560},{"s":"MCO 1","t":11.50,"z":520},{"s":"MCO 1","t":11.50,"z":530},{"s":"MCO 1","t":11.50,"z":580},{"s":"MCO 1","t":11.55,"z":560},{"s":"MCO 1","t":11.55,"z":600},{"s":"MCO 1","t":11.60,"z":560},{"s":"MCO 1","t":11.60,"z":580},{"s":"MCO 1","t":11.60,"z":620},{"s":"MCO 1","t":11.65,"z":580},{"s":"MCO 1","t":11.65,"z":600},{"s":"MCO 1","t":11.70,"z":540},{"s":"MCO 1","t":11.70,"z":600},{"s":"MCO 1","t":11.70,"z":640},{"s":"MCO 1","t":11.75,"z":580},{"s":"MCO 1","t":11.75,"z":620},{"s":"MCO 1","t":11.80,"z":580},{"s":"MCO 1","t":11.80,"z":620},{"s":"MCO 1","t":11.80,"z":650},{"s":"MCO 1","t":11.85,"z":600},{"s":"MCO 1","t":11.85,"z":640},{"s":"MCO 1","t":11.90,"z":580},{"s":"MCO 1","t":11.90,"z":610},{"s":"MCO 1","t":11.95,"z":600},{"s":"MCO 1","t":11.95,"z":690},{"s":"MCO 1","t":12.00,"z":580},{"s":"MCO 1","t":12.00,"z":620},{"s":"MCO 1","t":12.00,"z":690},{"s":"MCO 1","t":12.05,"z":600},{"s":"MCO 1","t":12.05,"z":630},{"s":"MCO 1","t":12.10,"z":580},{"s":"MCO 1","t":12.10,"z":620},{"s":"MCO 1","t":12.15,"z":600},{"s":"MCO 1","t":12.15,"z":640},{"s":"MCO 1","t":12.20,"z":620},{"s":"MCO 1","t":12.20,"z":680},{"s":"MCO 1","t":12.25,"z":600},{"s":"MCO 1","t":12.25,"z":630},{"s":"MCO 1","t":12.28,"z":470},{"s":"MCO 1","t":12.30,"z":600},{"s":"MCO 1","t":12.30,"z":620},{"s":"MCO 1","t":12.35,"z":580},{"s":"MCO 1","t":12.35,"z":630},{"s":"MCO 1","t":12.40,"z":590},{"s":"MCO 1","t":12.40,"z":610},{"s":"MCO 1","t":12.45,"z":600},{"s":"MCO 1","t":12.45,"z":620},{"s":"MCO 1","t":12.50,"z":580},{"s":"MCO 1","t":12.50,"z":600},{"s":"MCO 1","t":12.52,"z":690},{"s":"MCO 1","t":12.55,"z":610},{"s":"MCO 1","t":12.55,"z":665},{"s":"MCO 1","t":12.60,"z":590},{"s":"MCO 1","t":12.70,"z":580},{"s":"MCO 1","t":12.70,"z":570},{"s":"MCO 1","t":12.80,"z":590},{"s":"MCO 1","t":12.97,"z":560},
{"s":"MCO 2","t":8.98,"z":300},{"s":"MCO 2","t":8.98,"z":320},{"s":"MCO 2","t":9.02,"z":320},{"s":"MCO 2","t":9.02,"z":330},{"s":"MCO 2","t":9.06,"z":330},{"s":"MCO 2","t":9.10,"z":320},{"s":"MCO 2","t":9.10,"z":340},{"s":"MCO 2","t":9.15,"z":330},{"s":"MCO 2","t":9.15,"z":340},{"s":"MCO 2","t":9.20,"z":340},{"s":"MCO 2","t":9.25,"z":320},{"s":"MCO 2","t":9.25,"z":340},{"s":"MCO 2","t":9.30,"z":340},{"s":"MCO 2","t":9.30,"z":350},{"s":"MCO 2","t":9.35,"z":340},{"s":"MCO 2","t":9.35,"z":360},{"s":"MCO 2","t":9.40,"z":340},{"s":"MCO 2","t":9.40,"z":350},{"s":"MCO 2","t":9.45,"z":350},{"s":"MCO 2","t":9.45,"z":360},{"s":"MCO 2","t":9.50,"z":360},{"s":"MCO 2","t":9.50,"z":370},{"s":"MCO 2","t":9.55,"z":350},{"s":"MCO 2","t":9.55,"z":380},{"s":"MCO 2","t":9.60,"z":380},{"s":"MCO 2","t":9.60,"z":400},{"s":"MCO 2","t":9.65,"z":400},{"s":"MCO 2","t":9.65,"z":420},{"s":"MCO 2","t":9.70,"z":420},{"s":"MCO 2","t":9.70,"z":430},{"s":"MCO 2","t":9.75,"z":400},{"s":"MCO 2","t":9.75,"z":440},{"s":"MCO 2","t":9.80,"z":410},{"s":"MCO 2","t":9.80,"z":420},{"s":"MCO 2","t":9.85,"z":380},{"s":"MCO 2","t":9.85,"z":400},{"s":"MCO 2","t":9.90,"z":400},{"s":"MCO 2","t":9.90,"z":410},{"s":"MCO 2","t":9.95,"z":400},{"s":"MCO 2","t":9.95,"z":420},{"s":"MCO 2","t":10.00,"z":420},{"s":"MCO 2","t":10.00,"z":440},{"s":"MCO 2","t":10.05,"z":440},{"s":"MCO 2","t":10.05,"z":460},{"s":"MCO 2","t":10.10,"z":440},{"s":"MCO 2","t":10.10,"z":460},{"s":"MCO 2","t":10.15,"z":450},{"s":"MCO 2","t":10.15,"z":460},{"s":"MCO 2","t":10.20,"z":440},{"s":"MCO 2","t":10.20,"z":460},{"s":"MCO 2","t":10.20,"z":480},{"s":"MCO 2","t":10.25,"z":440},{"s":"MCO 2","t":10.25,"z":470},{"s":"MCO 2","t":10.30,"z":440},{"s":"MCO 2","t":10.30,"z":460},{"s":"MCO 2","t":10.35,"z":420},{"s":"MCO 2","t":10.35,"z":400},{"s":"MCO 2","t":10.40,"z":400},{"s":"MCO 2","t":10.40,"z":380},{"s":"MCO 2","t":10.45,"z":380},{"s":"MCO 2","t":10.45,"z":400},{"s":"MCO 2","t":10.50,"z":370},{"s":"MCO 2","t":10.50,"z":390},{"s":"MCO 2","t":10.55,"z":360},{"s":"MCO 2","t":10.55,"z":380},{"s":"MCO 2","t":10.60,"z":380},{"s":"MCO 2","t":10.60,"z":400},{"s":"MCO 2","t":10.65,"z":370},{"s":"MCO 2","t":10.65,"z":390},{"s":"MCO 2","t":10.70,"z":380},{"s":"MCO 2","t":10.70,"z":410},{"s":"MCO 2","t":10.75,"z":400},{"s":"MCO 2","t":10.75,"z":420},{"s":"MCO 2","t":10.80,"z":420},{"s":"MCO 2","t":10.85,"z":420},{"s":"MCO 2","t":10.85,"z":440},{"s":"MCO 2","t":10.90,"z":440},{"s":"MCO 2","t":10.90,"z":460},{"s":"MCO 2","t":10.95,"z":420},{"s":"MCO 2","t":10.95,"z":460},{"s":"MCO 2","t":11.00,"z":440},{"s":"MCO 2","t":11.00,"z":480},{"s":"MCO 2","t":11.05,"z":460},{"s":"MCO 2","t":11.05,"z":500},{"s":"MCO 2","t":11.10,"z":480},{"s":"MCO 2","t":11.10,"z":520},{"s":"MCO 2","t":11.15,"z":500},{"s":"MCO 2","t":11.15,"z":540},{"s":"MCO 2","t":11.20,"z":520},{"s":"MCO 2","t":11.20,"z":550},{"s":"MCO 2","t":11.25,"z":540},{"s":"MCO 2","t":11.25,"z":560},{"s":"MCO 2","t":11.30,"z":540},{"s":"MCO 2","t":11.30,"z":560},{"s":"MCO 2","t":11.35,"z":550},{"s":"MCO 2","t":11.35,"z":560},{"s":"MCO 2","t":11.40,"z":560},{"s":"MCO 2","t":11.40,"z":580},{"s":"MCO 2","t":11.45,"z":570},{"s":"MCO 2","t":11.45,"z":600},{"s":"MCO 2","t":11.50,"z":580},{"s":"MCO 2","t":11.50,"z":620},{"s":"MCO 2","t":11.55,"z":600},{"s":"MCO 2","t":11.55,"z":640},{"s":"MCO 2","t":11.60,"z":580},{"s":"MCO 2","t":11.60,"z":620},{"s":"MCO 2","t":11.65,"z":600},{"s":"MCO 2","t":11.65,"z":640},{"s":"MCO 2","t":11.65,"z":650},{"s":"MCO 2","t":11.70,"z":620},{"s":"MCO 2","t":11.70,"z":690},{"s":"MCO 2","t":11.75,"z":600},{"s":"MCO 2","t":11.75,"z":640},{"s":"MCO 2","t":11.75,"z":690},{"s":"MCO 2","t":11.80,"z":610},{"s":"MCO 2","t":11.80,"z":630},{"s":"MCO 2","t":11.85,"z":590},{"s":"MCO 2","t":11.85,"z":600},{"s":"MCO 2","t":11.90,"z":580},{"s":"MCO 2","t":11.90,"z":600},{"s":"MCO 2","t":11.95,"z":590},{"s":"MCO 2","t":11.95,"z":610},{"s":"MCO 2","t":12.00,"z":580},{"s":"MCO 2","t":12.00,"z":600},{"s":"MCO 2","t":12.05,"z":570},{"s":"MCO 2","t":12.05,"z":590},{"s":"MCO 2","t":12.10,"z":580},{"s":"MCO 2","t":12.10,"z":600},{"s":"MCO 2","t":12.15,"z":590},{"s":"MCO 2","t":12.20,"z":580},{"s":"MCO 2","t":12.20,"z":600},{"s":"MCO 2","t":12.25,"z":570},{"s":"MCO 2","t":12.25,"z":590},{"s":"MCO 2","t":12.30,"z":580},{"s":"MCO 2","t":12.30,"z":590},{"s":"MCO 2","t":12.35,"z":585},{"s":"MCO 2","t":12.40,"z":580},{"s":"MCO 2","t":12.40,"z":590},{"s":"MCO 2","t":12.45,"z":585},{"s":"MCO 2","t":12.45,"z":600},{"s":"MCO 2","t":12.50,"z":580},{"s":"MCO 2","t":12.50,"z":590},{"s":"MCO 2","t":12.55,"z":585},{"s":"MCO 2","t":12.60,"z":570},{"s":"MCO 2","t":12.65,"z":570},{"s":"MCO 2","t":12.65,"z":580},{"s":"MCO 2","t":12.70,"z":570},{"s":"MCO 2","t":12.75,"z":570}
]},
"hconcat":[
{"width":350,"height":301,"title":{"text":"March 2, 2011","dy":21},
"layer":[
{"data":{"name":"bandsA"},"mark":{"type":"rect"},
"encoding":{
"x":{"field":"from","type":"quantitative","scale":{"domain":[8,14.17],"nice":false,"zero":false},"axis":{"orient":"bottom","values":[8,10,12,14],"labelExpr":"(datum.value < 10 ? '0' : '') + datum.value + '00'","title":"UTC","ticks":false,"tickSize":0,"labelPadding":8,"titlePadding":10}},
"x2":{"field":"to"},
"y":{"datum":0,"type":"quantitative","scale":{"domain":[0,700],"nice":false},"axis":{"orient":"left","values":[0,100,200,300,400,500,600,700],"title":"zᵢ (m) a.g.l.","ticks":false,"tickSize":0,"labelPadding":6,"titlePadding":12}},
"y2":{"datum":700},
"fill":{"field":"kind","type":"nominal","scale":{"domain":["shade","MCO 1","MCO 2"],"range":["#ebebeb","#f9aeae","#aaaae0"]},"legend":null}}},
{"data":{"name":"a"},"mark":{"type":"point","shape":"M-1,0H1M0,-1V1","filled":false,"size":49,"strokeWidth":1.1,"opacity":1},
"encoding":{
"x":{"field":"t","type":"quantitative","scale":{"domain":[8,14.17],"nice":false,"zero":false},"axis":{"orient":"bottom","values":[8,9,10,11,12,13,14],"labels":false,"title":null,"tickSize":6,"offset":-6,"zindex":1}},
"y":{"field":"z","type":"quantitative","scale":{"domain":[0,700],"nice":false},"axis":{"orient":"left","values":[0,100,200,300,400,500,600,700],"labels":false,"title":null,"tickSize":6,"offset":-6,"zindex":1}},
"stroke":{"field":"s","type":"nominal","scale":{"domain":["Sodar","MCO 1","MCO 2"],"range":["#000000","#e8262b","#3038a0"]},"sort":["Sodar","MCO 1","MCO 2"],
"legend":{"orient":"none","legendX":85,"legendY":9,"title":null,"labelAlign":"right","labelOffset":-42,"labelFontSize":16.5,"labelFont":"DejaVu Sans","labelColor":"#000","symbolType":"M-1,0H1M0,-1V1","symbolSize":36,"symbolStrokeWidth":1,"rowPadding":2,"padding":0}}}},
{"data":{"values":[{}]},"mark":{"type":"text","text":"a","align":"left","baseline":"alphabetic","fontSize":22,"fontWeight":"bold","font":"Liberation Sans","color":"#000"},
"encoding":{"x":{"datum":6.80,"type":"quantitative","axis":{"orient":"top","values":[8,9,10,11,12,13,14],"labels":false,"title":null,"tickSize":6,"offset":-6,"zindex":1}},"y":{"datum":721,"type":"quantitative","axis":{"orient":"right","values":[0,100,200,300,400,500,600,700],"labels":false,"title":null,"tickSize":6,"offset":-6,"zindex":1}}}}
],
"resolve":{"axis":{"x":"independent","y":"independent"}}},
{"width":351,"height":301,"title":{"text":"March 3, 2011","dy":18},
"layer":[
{"data":{"name":"bandsB"},"mark":{"type":"rect"},
"encoding":{
"x":{"field":"from","type":"quantitative","scale":{"domain":[7,13],"nice":false,"zero":false},"axis":{"orient":"bottom","values":[7,9,11,13],"labelExpr":"(datum.value < 10 ? '0' : '') + datum.value + '00'","title":"UTC","ticks":false,"tickSize":0,"labelPadding":8,"titlePadding":10}},
"x2":{"field":"to"},
"y":{"datum":0,"type":"quantitative","scale":{"domain":[0,700],"nice":false},"axis":{"orient":"left","values":[0,100,200,300,400,500,600,700],"title":"zᵢ (m) a.g.l.","ticks":false,"tickSize":0,"labelPadding":6,"titlePadding":12}},
"y2":{"datum":700},
"fill":{"field":"kind","type":"nominal","scale":{"domain":["shade","MCO 1","MCO 2"],"range":["#ebebeb","#f9aeae","#aaaae0"]},"legend":null}}},
{"data":{"name":"b"},"mark":{"type":"point","shape":"M-1,0H1M0,-1V1","filled":false,"size":49,"strokeWidth":1.1,"opacity":1},
"encoding":{
"x":{"field":"t","type":"quantitative","scale":{"domain":[7,13],"nice":false,"zero":false},"axis":{"orient":"bottom","values":[7,8,9,10,11,12,13],"labels":false,"title":null,"tickSize":6,"offset":-6,"zindex":1}},
"y":{"field":"z","type":"quantitative","scale":{"domain":[0,700],"nice":false},"axis":{"orient":"left","values":[0,100,200,300,400,500,600,700],"labels":false,"title":null,"tickSize":6,"offset":-6,"zindex":1}},
"stroke":{"field":"s","type":"nominal","scale":{"domain":["Sodar","MCO 1","MCO 2"],"range":["#000000","#e8262b","#3038a0"]},"sort":["Sodar","MCO 1","MCO 2"],
"legend":{"orient":"none","legendX":85,"legendY":9,"title":null,"labelAlign":"right","labelOffset":-42,"labelFontSize":16.5,"labelFont":"DejaVu Sans","labelColor":"#000","symbolType":"M-1,0H1M0,-1V1","symbolSize":36,"symbolStrokeWidth":1,"rowPadding":2,"padding":0}}}},
{"data":{"values":[{}]},"mark":{"type":"text","text":"b","align":"left","baseline":"alphabetic","fontSize":24,"fontWeight":"bold","font":"Liberation Sans","color":"#000"},
"encoding":{"x":{"datum":5.79,"type":"quantitative","axis":{"orient":"top","values":[7,8,9,10,11,12,13],"labels":false,"title":null,"tickSize":6,"offset":-6,"zindex":1}},"y":{"datum":709,"type":"quantitative","axis":{"orient":"right","values":[0,100,200,300,400,500,600,700],"labels":false,"title":null,"tickSize":6,"offset":-6,"zindex":1}}}}
],
"resolve":{"axis":{"x":"independent","y":"independent"}}}
],
"resolve":{"scale":{"x":"independent","y":"independent","stroke":"independent","fill":"independent"},"legend":{"stroke":"independent","fill":"independent"}}
}
